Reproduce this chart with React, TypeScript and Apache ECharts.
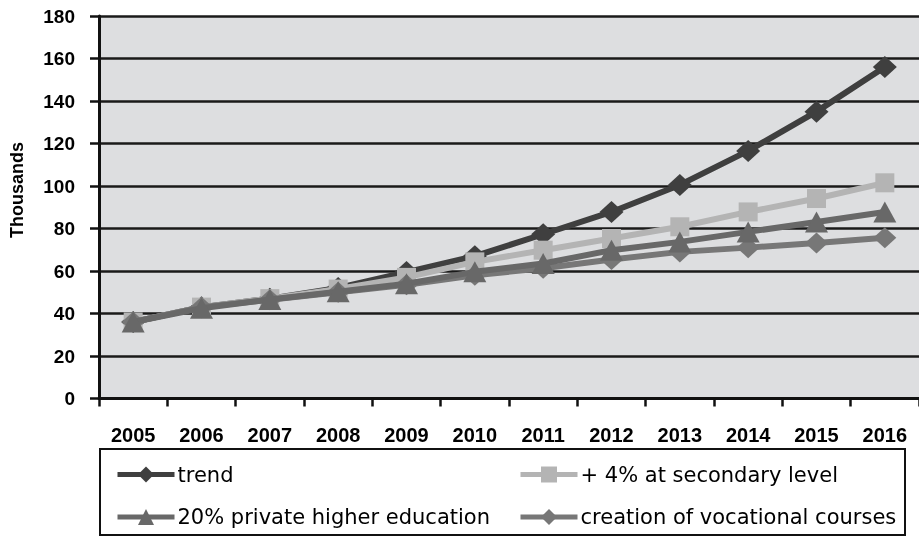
import React, { useEffect, useRef } from "react";
import * as echarts from "echarts";

const years = ["2005", "2006", "2007", "2008", "2009", "2010", "2011", "2012", "2013", "2014", "2015", "2016"];
const trend = [36, 43, 47, 52, 59.5, 67, 77.3, 87.8, 100.5, 116.5, 135, 156];
const secondary = [36, 43, 47, 51.5, 57, 64.3, 69.8, 75.3, 80.8, 87.8, 94.1, 101.5];
const privateHigher = [36, 42.5, 46.6, 50.2, 54, 59.6, 63.5, 69.8, 73.7, 78.4, 83.1, 87.8];
const vocational = [36, 43, 46.5, 50, 53.5, 58, 61.3, 65.4, 69, 71, 73.2, 75.6];

const seriesNames = [
  "trend",
  "+ 4% at secondary level",
  "20% private higher education",
  "creation of vocational courses",
];

const FONT = "'Liberation Sans', Arial, sans-serif";
const LEGEND_FONT = "'DejaVu Sans', 'Liberation Sans', Arial, sans-serif";

export default function App() {
  const ref = useRef<HTMLDivElement>(null);
  useEffect(() => {
    if (!ref.current) return;
    const chart = echarts.init(ref.current, undefined, { renderer: "svg" });
    const legendCommon = {
      orient: "horizontal" as const,
      itemWidth: 57,
      itemHeight: 20,
      itemGap: 5,
      padding: 0,
      lineStyle: { width: 5 },
      textStyle: { fontSize: 21, color: "#000", fontFamily: LEGEND_FONT, padding: [0, 0, 0, -2] },
    };
    const mkSeries = (name: string, data: number[], color: string, symbol: string, size: any, z: number) => ({
      name,
      type: "line",
      data,
      symbol,
      symbolSize: size,
      z,
      lineStyle: { color, width: 6 },
      itemStyle: { color },
      emphasis: { disabled: true },
    });
    chart.setOption({
      animation: false,
      grid: {
        left: 99,
        right: 0,
        top: 16,
        bottom: 138.5,
        show: true,
        backgroundColor: "#dddee0",
        borderWidth: 0,
      },
      xAxis: {
        type: "category",
        data: years,
        boundaryGap: true,
        axisLine: { lineStyle: { color: "#111", width: 3 } },
        axisTick: { show: true, length: 8, lineStyle: { color: "#111", width: 2.5 } },
        axisLabel: {
          fontSize: 20,
          fontWeight: "bold",
          color: "#000",
          fontFamily: FONT,
          margin: 26,
          interval: 0,
        },
        splitLine: { show: false },
      },
      yAxis: {
        type: "value",
        min: 0,
        max: 180,
        interval: 20,
        axisLine: { show: true, lineStyle: { color: "#111", width: 3 } },
        axisTick: { show: true, length: 9, lineStyle: { color: "#111", width: 2.5 } },
        axisLabel: {
          fontSize: 19,
          fontWeight: "bold",
          color: "#000",
          fontFamily: FONT,
          margin: 24,
        },
        splitLine: { show: true, lineStyle: { color: "#1a1a1a", width: 2.5 } },
      },
      legend: [
        { ...legendCommon, data: [seriesNames[0]], left: 115, top: 464 },
        { ...legendCommon, data: [seriesNames[1]], left: 518, top: 464 },
        { ...legendCommon, data: [seriesNames[2]], left: 115, top: 506.5 },
        { ...legendCommon, data: [seriesNames[3]], left: 518, top: 506.5 },
      ],
      graphic: [
        {
          type: "rect",
          shape: { x: 100, y: 449, width: 805, height: 86 },
          style: { fill: "none", stroke: "#111", lineWidth: 2 },
          silent: true,
        },
        {
          type: "text",
          x: 17,
          y: 190,
          rotation: Math.PI / 2,
          style: {
            text: "Thousands",
            fontSize: 18,
            fontWeight: "bold",
            fontFamily: FONT,
            fill: "#000",
            textAlign: "center",
            textVerticalAlign: "middle",
          },
          silent: true,
        },
      ],
      series: [
        mkSeries(seriesNames[0], trend, "#3f3f3f", "diamond", [24, 22], 2),
        mkSeries(seriesNames[1], secondary, "#b4b4b4", "rect", 19, 3),
        mkSeries(seriesNames[2], privateHigher, "#686868", "triangle", [23, 21], 5),
        mkSeries(seriesNames[3], vocational, "#777777", "diamond", [23, 21], 4),
      ],
    });
    return () => chart.dispose();
  }, []);
  return (
    <div
      ref={ref}
      style={{ position: "fixed", left: 0, top: 0, width: 919, height: 537 }}
    />
  );
}
